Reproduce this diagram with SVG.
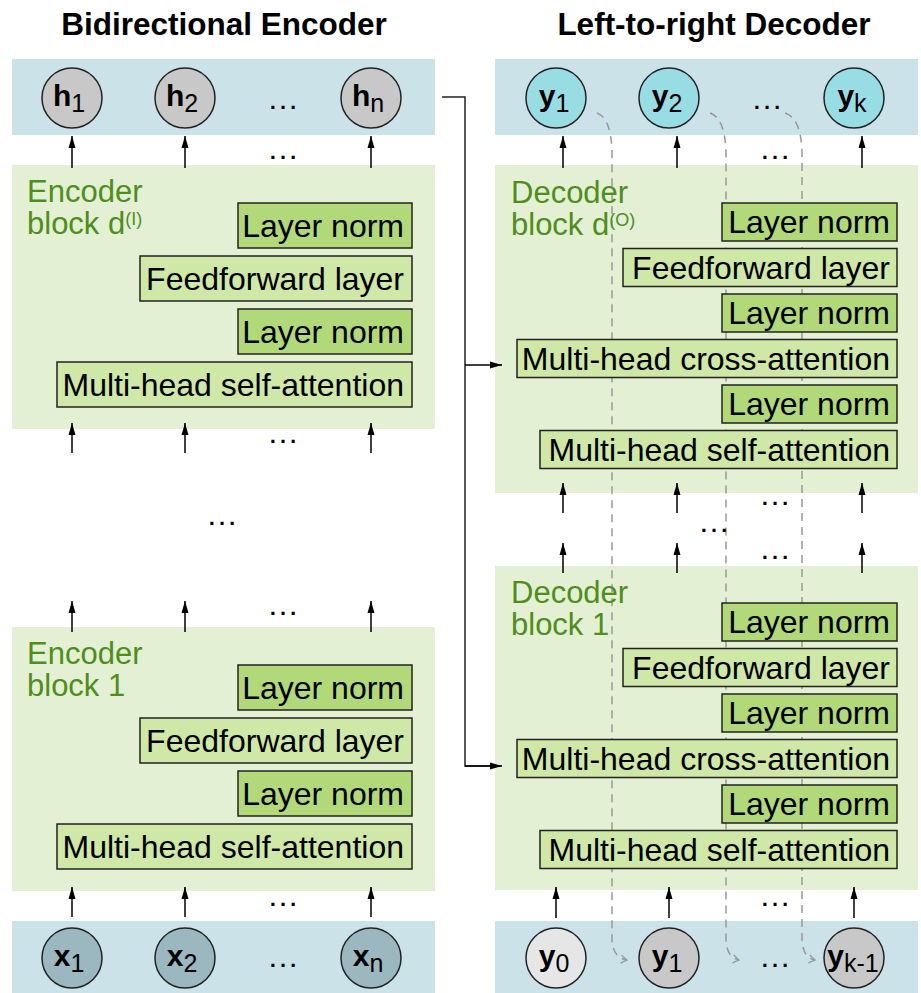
<svg xmlns="http://www.w3.org/2000/svg" width="921" height="993" viewBox="0 0 921 993">
<defs>
<marker id="ah" markerUnits="userSpaceOnUse" markerWidth="12" markerHeight="8" refX="12" refY="4" orient="auto"><path d="M0,0.5 L12,4 L0,7.5 z" fill="#000"/></marker>
<marker id="ch" markerUnits="userSpaceOnUse" markerWidth="10" markerHeight="10" refX="8" refY="5" orient="auto"><path d="M2,1 L8,5 L2,9" fill="none" stroke="#999" stroke-width="1.3"/></marker>
</defs>
<style>
.t{font-family:"Liberation Sans",Arial,Helvetica,sans-serif}
.title{font-size:31.5px;font-weight:bold;text-anchor:middle}
.bar{fill:#cbe2e9}
.blk{fill:#e3f0d3}
.lbl{font-size:31px;fill:#4f8d1c}
.sup{font-size:18px}
.ln{fill:#b1d97a;stroke:#222;stroke-width:1.5}
.ff{fill:#cfe7a7;stroke:#222;stroke-width:1.5}
.bt{font-size:32px;text-anchor:end;fill:#000}
.arr{stroke:#000;stroke-width:1.5;fill:none;marker-end:url(#ah)}
.con{stroke:#222;stroke-width:1.5;fill:none}
.dash{stroke:#999;stroke-width:1.5;fill:none;stroke-dasharray:8 6;marker-end:url(#ch)}
.dots{font-size:32px;text-anchor:middle}
.c{stroke:#222;stroke-width:1.5}
.cl{font-size:30px;text-anchor:middle}
.cb{font-weight:bold}
.sub{font-size:25px}
</style>

<!-- titles -->
<text class="t title" x="224" y="35">Bidirectional Encoder</text>
<text class="t title" x="714" y="35">Left-to-right Decoder</text>

<!-- backgrounds -->
<rect class="bar" x="12" y="59" width="423" height="76"/>
<rect class="bar" x="495" y="59" width="423" height="76"/>
<rect class="bar" x="12" y="921" width="423" height="72"/>
<rect class="bar" x="495" y="921" width="423" height="72"/>

<!-- Encoder block d -->
<g id="enc-block-d">
<rect class="blk" x="12" y="165" width="423" height="264"/>
<text class="t lbl" x="27" y="202">Encoder</text>
<text class="t lbl" x="27" y="234">block d<tspan class="sup" dy="-9">(I)</tspan></text>
<g id="enc-d-ln2"><rect class="ln" x="238" y="203" width="174" height="45"/><text class="t bt" x="404" y="237">Layer norm</text></g>
<g id="enc-d-ff"><rect class="ff" x="140" y="256" width="272" height="45"/><text class="t bt" x="404" y="290">Feedforward layer</text></g>
<g id="enc-d-ln1"><rect class="ln" x="238" y="309" width="174" height="45"/><text class="t bt" x="404" y="343">Layer norm</text></g>
<g id="enc-d-sa"><rect class="ff" x="57" y="362" width="355" height="45"/><text class="t bt" x="404" y="396">Multi-head self-attention</text></g>
</g>

<!-- Encoder block 1 -->
<g id="enc-block-1">
<rect class="blk" x="12" y="627" width="423" height="264"/>
<text class="t lbl" x="27" y="664">Encoder</text>
<text class="t lbl" x="27" y="696">block 1</text>
<g id="enc-1-ln2"><rect class="ln" x="238" y="665" width="174" height="45"/><text class="t bt" x="404" y="699">Layer norm</text></g>
<g id="enc-1-ff"><rect class="ff" x="140" y="718" width="272" height="45"/><text class="t bt" x="404" y="752">Feedforward layer</text></g>
<g id="enc-1-ln1"><rect class="ln" x="238" y="771" width="174" height="45"/><text class="t bt" x="404" y="805">Layer norm</text></g>
<g id="enc-1-sa"><rect class="ff" x="57" y="824" width="355" height="45"/><text class="t bt" x="404" y="858">Multi-head self-attention</text></g>
</g>

<!-- Decoder block backgrounds -->
<rect class="blk" x="495" y="165" width="423" height="328"/>
<rect class="blk" x="495" y="566" width="423" height="324"/>

<!-- dashed autoregressive connectors (behind boxes) -->
<g id="dashed">
<path class="dash" d="M597,113 Q611,118 612,152 L612,940 Q613,958 627,960"/>
<path class="dash" d="M710,113 Q725,118 726,152 L726,940 Q727,958 739,960"/>
<path class="dash" d="M785,113 Q801,118 802,152 L802,940 Q803,958 815,960"/>
</g>

<!-- Decoder block d -->
<g id="dec-block-d">
<text class="t lbl" x="511" y="203">Decoder</text>
<text class="t lbl" x="511" y="235">block d<tspan class="sup" dy="-9">(O)</tspan></text>
<g id="dec-d-ln3"><rect class="ln" x="722" y="203" width="175" height="38"/><text class="t bt" x="890" y="233">Layer norm</text></g>
<g id="dec-d-ff"><rect class="ff" x="623" y="248.5" width="274" height="38"/><text class="t bt" x="890" y="278.5">Feedforward layer</text></g>
<g id="dec-d-ln2"><rect class="ln" x="722" y="294" width="175" height="38"/><text class="t bt" x="890" y="324">Layer norm</text></g>
<g id="dec-d-ca"><rect class="ff" x="517" y="339.5" width="380" height="38"/><text class="t bt" x="890" y="369.5">Multi-head cross-attention</text></g>
<g id="dec-d-ln1"><rect class="ln" x="722" y="385" width="175" height="38"/><text class="t bt" x="890" y="415">Layer norm</text></g>
<g id="dec-d-sa"><rect class="ff" x="540" y="430.5" width="357" height="38"/><text class="t bt" x="890" y="460.5">Multi-head self-attention</text></g>
</g>

<!-- Decoder block 1 -->
<g id="dec-block-1">
<text class="t lbl" x="511" y="603">Decoder</text>
<text class="t lbl" x="511" y="635">block 1</text>
<g id="dec-1-ln3"><rect class="ln" x="722" y="603" width="175" height="38"/><text class="t bt" x="890" y="633">Layer norm</text></g>
<g id="dec-1-ff"><rect class="ff" x="623" y="648.5" width="274" height="38"/><text class="t bt" x="890" y="678.5">Feedforward layer</text></g>
<g id="dec-1-ln2"><rect class="ln" x="722" y="694" width="175" height="38"/><text class="t bt" x="890" y="724">Layer norm</text></g>
<g id="dec-1-ca"><rect class="ff" x="517" y="739.5" width="380" height="38"/><text class="t bt" x="890" y="769.5">Multi-head cross-attention</text></g>
<g id="dec-1-ln1"><rect class="ln" x="722" y="785" width="175" height="38"/><text class="t bt" x="890" y="815">Layer norm</text></g>
<g id="dec-1-sa"><rect class="ff" x="540" y="830.5" width="357" height="38"/><text class="t bt" x="890" y="860.5">Multi-head self-attention</text></g>
</g>

<!-- token nodes -->
<g id="h1"><circle class="c" cx="72" cy="98" r="30" fill="#c8c8c8"/><text class="t cl" x="69" y="106"><tspan class="cb">h</tspan><tspan class="sub" dy="6">1</tspan></text></g>
<g id="h2"><circle class="c" cx="185" cy="98" r="30" fill="#c8c8c8"/><text class="t cl" x="182" y="106"><tspan class="cb">h</tspan><tspan class="sub" dy="6">2</tspan></text></g>
<g id="hn"><circle class="c" cx="371" cy="98" r="30" fill="#c8c8c8"/><text class="t cl" x="368" y="106"><tspan class="cb">h</tspan><tspan class="sub" dy="6">n</tspan></text></g>

<g id="x1"><circle class="c" cx="72" cy="958" r="30" fill="#9bb8c0"/><text class="t cl" x="69" y="966"><tspan class="cb">x</tspan><tspan class="sub" dy="6">1</tspan></text></g>
<g id="x2"><circle class="c" cx="185" cy="958" r="30" fill="#9bb8c0"/><text class="t cl" x="182" y="966"><tspan class="cb">x</tspan><tspan class="sub" dy="6">2</tspan></text></g>
<g id="xn"><circle class="c" cx="371" cy="958" r="30" fill="#9bb8c0"/><text class="t cl" x="368" y="966"><tspan class="cb">x</tspan><tspan class="sub" dy="6">n</tspan></text></g>

<g id="yo1"><circle class="c" cx="556" cy="98" r="30" fill="#99dde4"/><text class="t cl" x="554" y="106"><tspan class="cb">y</tspan><tspan class="sub" dy="6">1</tspan></text></g>
<g id="yo2"><circle class="c" cx="669" cy="98" r="30" fill="#99dde4"/><text class="t cl" x="667" y="106"><tspan class="cb">y</tspan><tspan class="sub" dy="6">2</tspan></text></g>
<g id="yok"><circle class="c" cx="854" cy="98" r="30" fill="#99dde4"/><text class="t cl" x="852" y="106"><tspan class="cb">y</tspan><tspan class="sub" dy="6">k</tspan></text></g>

<g id="yi0"><circle class="c" cx="556" cy="958" r="30" fill="#e6e6e6"/><text class="t cl" x="554" y="966"><tspan class="cb">y</tspan><tspan class="sub" dy="6">0</tspan></text></g>
<g id="yi1"><circle class="c" cx="669" cy="958" r="30" fill="#c8c8c8"/><text class="t cl" x="667" y="966"><tspan class="cb">y</tspan><tspan class="sub" dy="6">1</tspan></text></g>
<g id="yik"><circle class="c" cx="854" cy="958" r="30" fill="#c8c8c8"/><text class="t cl" x="853" y="966"><tspan class="cb">y</tspan><tspan class="sub" dy="6">k-1</tspan></text></g>

<!-- connectors -->
<g id="connectors">
<path class="arr" d="M72,168 V136"/>
<path class="arr" d="M185,168 V136"/>
<path class="arr" d="M371,168 V136"/>
<path class="arr" d="M72,453 V423"/>
<path class="arr" d="M185,453 V423"/>
<path class="arr" d="M371,453 V423"/>
<path class="arr" d="M72,632 V601"/>
<path class="arr" d="M185,632 V601"/>
<path class="arr" d="M371,632 V601"/>
<path class="arr" d="M72,917 V887"/>
<path class="arr" d="M185,917 V887"/>
<path class="arr" d="M371,917 V887"/>

<path class="arr" d="M563,168 V136"/>
<path class="arr" d="M677,168 V136"/>
<path class="arr" d="M862,168 V136"/>
<path class="arr" d="M563,513 V483"/>
<path class="arr" d="M677,513 V483"/>
<path class="arr" d="M862,513 V483"/>
<path class="arr" d="M563,573 V543"/>
<path class="arr" d="M677,573 V543"/>
<path class="arr" d="M862,573 V543"/>
<path class="arr" d="M556,918 V887"/>
<path class="arr" d="M669,918 V887"/>
<path class="arr" d="M854,918 V887"/>

<path class="con" d="M442,97 H465 V766 H490"/>
<path class="arr" d="M465,766 H502"/>
<path class="arr" d="M465,365 H502"/>
</g>

<!-- ellipses -->
<g id="dots">
<text class="t dots" x="283" y="109">…</text>
<text class="t dots" x="283" y="159">…</text>
<text class="t dots" x="283" y="443">…</text>
<text class="t dots" x="222" y="525">…</text>
<text class="t dots" x="283" y="615">…</text>
<text class="t dots" x="283" y="906">…</text>
<text class="t dots" x="283" y="967">…</text>
<text class="t dots" x="767" y="109">…</text>
<text class="t dots" x="775" y="159">…</text>
<text class="t dots" x="775" y="505">…</text>
<text class="t dots" x="714" y="532">…</text>
<text class="t dots" x="775" y="559">…</text>
<text class="t dots" x="775" y="906">…</text>
<text class="t dots" x="775" y="967">…</text>
</g>
</svg>
